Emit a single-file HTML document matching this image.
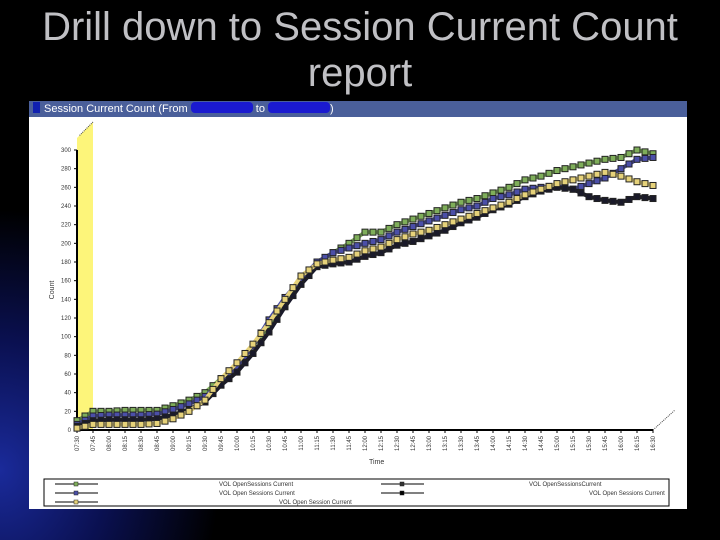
<!DOCTYPE html>
<html><head><meta charset="utf-8">
<style>
html,body{margin:0;padding:0;}
body{width:720px;height:540px;overflow:hidden;position:relative;font-family:"Liberation Sans",sans-serif;
background:radial-gradient(ellipse 220px 260px at 0px 470px,#1a2a9a 0%,#0a1050 50%,#000 100%),#000;}
.t{position:absolute;left:0;width:720px;text-align:center;color:#c0c0c4;font-size:40px;line-height:44px;}
#win{position:absolute;left:29px;top:101px;width:658px;height:408px;background:#fff;}
#bar{position:absolute;left:0;top:0;width:658px;height:16px;background:#4a5f9a;color:#fff;font-size:11px;line-height:16px;}
</style></head><body>
<div class="t" style="top:5px">Drill down to Session Current Count</div>
<div class="t" style="top:51px">report</div>
<div id="win">
<div id="bar">
<span style="display:inline-block;width:7px;height:11px;background:#1020b0;margin:0 4px 0 4px;vertical-align:-1px"></span>Session Current Count (From <span style="display:inline-block;width:62px;height:11px;background:#1a1ad0;border-radius:4px;vertical-align:-1px"></span> to <span style="display:inline-block;width:62px;height:11px;background:#1a1ad0;border-radius:4px;vertical-align:-1px"></span>)
</div>
<svg id="chart" width="658" height="408" style="position:absolute;left:0;top:0" xmlns="http://www.w3.org/2000/svg"></svg>
</div>
<script>
const times=["07:30","07:45","08:00","08:15","08:30","08:45","09:00","09:15","09:30","09:45","10:00","10:15","10:30","10:45","11:00","11:15","11:30","11:45","12:00","12:15","12:30","12:45","13:00","13:15","13:30","13:45","14:00","14:15","14:30","14:45","15:00","15:15","15:30","15:45","16:00","16:15","16:30"];
const yTicks=[0,20,40,60,80,100,120,140,160,180,200,220,240,260,280,300];
const greenVals=[10,20,20,21,21,21,26,32,40,55,70,90,112,138,160,178,190,200,212,212,220,226,232,238,244,248,254,260,268,272,278,282,286,290,292,300,296];
const blueVals=[6,15,16,16,16,17,22,28,36,50,68,90,118,142,162,180,190,195,200,204,212,218,224,230,236,240,248,252,258,260,262,258,264,270,280,290,292];
const yellowVals=[2,6,6,6,6,7,12,20,32,55,72,92,115,140,165,178,182,185,192,196,204,210,214,220,226,232,238,244,252,258,264,268,272,276,272,266,262];
const blackVals=[4,10,11,11,11,12,16,22,30,48,62,82,105,132,156,175,178,180,186,190,198,202,208,214,222,228,236,242,250,256,260,258,250,246,244,250,248];
const seriesNames=["Open Sessions Current (green)","Open Sessions Current (blue)","Open Sessions Current (yellow)","Open Sessions Current (black)"];

const svg=document.getElementById('chart');
const NS='http://www.w3.org/2000/svg';
const X0=48,XS=16,Y0=329,YT=49;
const xs=i=>X0+i*XS;
const ys=v=>Y0-(v/300)*(Y0-YT);
function mk(tag,a,p){const e=document.createElementNS(NS,tag);for(const k in a)e.setAttribute(k,a[k]);(p||svg).appendChild(e);return e;}

let w=mk('polygon',{points:`${X0},${Y0} ${X0},${YT-12} ${X0+16},${YT-28} ${X0+16},${Y0}`,fill:'#fdf57a'});

let ya=mk('line',{x1:X0,y1:YT,x2:X0,y2:Y0,stroke:'#000','stroke-width':2});

let xa=mk('line',{x1:X0,y1:Y0,x2:xs(times.length-1),y2:Y0,stroke:'#000','stroke-width':2});

mk('line',{x1:X0+16,y1:YT-28,x2:X0+2,y2:YT-14,stroke:'#444','stroke-dasharray':'1,1'});
mk('line',{x1:xs(times.length-1),y1:Y0,x2:xs(times.length-1)+22,y2:Y0-20,stroke:'#444','stroke-dasharray':'1,1'});

yTicks.forEach(v=>{
  const y=ys(v);
  mk('line',{x1:X0-3,y1:y,x2:X0,y2:y,stroke:'#000'});
  const t=mk('text',{x:X0-6,y:y+2,'font-size':6,'text-anchor':'end',fill:'#333'});t.textContent=v;
  
});
times.forEach((tm,i)=>{
  const x=xs(i);
  mk('line',{x1:x,y1:Y0,x2:x,y2:Y0+3,stroke:'#000'});
  const t=mk('text',{x:0,y:0,'font-size':6,'text-anchor':'end',fill:'#333',transform:`translate(${x+2},${Y0+6}) rotate(-90)`});t.textContent=tm;
  
});
let yt=mk('text',{x:0,y:0,'font-size':7,'text-anchor':'middle',fill:'#333',transform:`translate(25,${(Y0+YT)/2}) rotate(-90)`});yt.textContent='Count';

let xt=mk('text',{x:340,y:Y0+34,'font-size':7,fill:'#333'});xt.textContent='Time';


const series=[[greenVals,'#7fae5a'],[blueVals,'#4b4fa8'],[blackVals,'#1a1a2a'],[yellowVals,'#e6d27a']];
series.forEach(([vals,col],si)=>{
  const g=mk('g',{});
  
  
  const pts=vals.map((v,i)=>xs(i)+','+ys(v)).join(' ');
  mk('polyline',{points:pts,fill:'none',stroke:col,'stroke-width':4},g);
  vals.forEach((v,i)=>{
    const r=mk('rect',{x:xs(i)-3,y:ys(v)-3,width:6,height:6,fill:col,stroke:'#222','stroke-width':1},g);
    
    
    if(i<vals.length-1){const r2=mk('rect',{x:xs(i)+5,y:(ys(v)+ys(vals[i+1]))/2-3,width:6,height:6,fill:col,stroke:'#222','stroke-width':1},g);
    
    }
  });
});

const lg=mk('g',{});

mk('rect',{x:15,y:378,width:625,height:27,fill:'#fff',stroke:'#000'},lg);
[['#7fae5a',14,383,'OpenSessions Current',190],['#4b4fa8',14,392,'Open Sessions Current',190],['#e6d27a',14,401,'Open Session Current',250],['#333',340,383,'OpenSessionsCurrent',500],['#000',340,392,'Open Sessions Current',560]].forEach(([c,lx,ly,txt,tx],k)=>{
  const e=mk('g',{},lg);
  
  mk('line',{x1:lx+12,y1:ly,x2:lx+55,y2:ly,stroke:'#000'},e);
  mk('rect',{x:lx+31,y:ly-2,width:4,height:4,fill:c,stroke:'#222','stroke-width':0.5},e);
  const t=mk('text',{x:tx,y:ly+2,'font-size':6,fill:'#333'},e);t.textContent='VOL    '+txt;
});
</script>
</body></html>
